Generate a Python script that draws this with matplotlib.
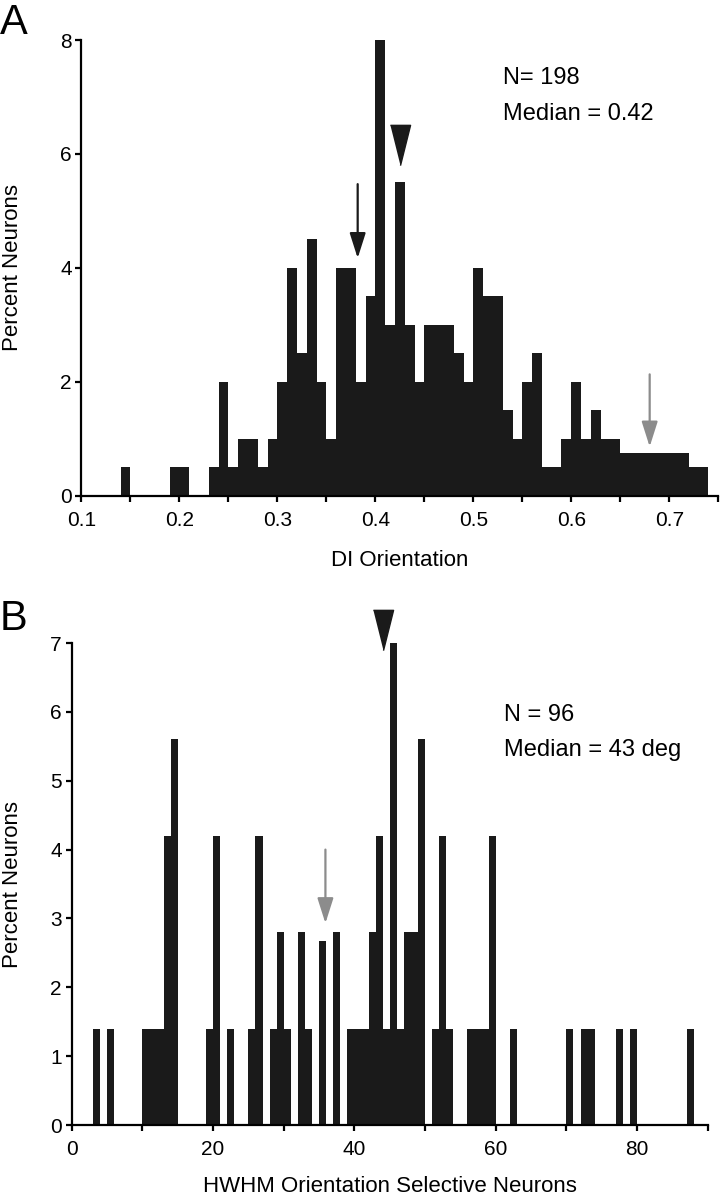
import matplotlib
matplotlib.use("Agg")
import matplotlib.pyplot as plt
import numpy as np

plt.rcParams['font.family'] = ['Liberation Sans', 'DejaVu Sans']

# panel A: DI orientation histogram (left bin edges, percent of neurons)
a_bins = [0.14, 0.15, 0.16, 0.17, 0.18, 0.19, 0.20, 0.21, 0.22, 0.23,
          0.24, 0.25, 0.26, 0.27, 0.28, 0.29, 0.30, 0.31, 0.32, 0.33,
          0.34, 0.35, 0.36, 0.37, 0.38, 0.39, 0.40, 0.41, 0.42, 0.43,
          0.44, 0.45, 0.46, 0.47, 0.48, 0.49, 0.50, 0.51, 0.52, 0.53,
          0.54, 0.55, 0.56, 0.57, 0.58, 0.59, 0.60, 0.61, 0.62, 0.63,
          0.64, 0.65, 0.66, 0.67, 0.68, 0.69, 0.70, 0.71, 0.72, 0.73]
a_pct = [0.5, 0, 0, 0, 0, 0.5, 0.5, 0, 0, 0.5,
         2.0, 0.5, 1.0, 1.0, 0.5, 1.0, 2.0, 4.0, 2.5, 4.5,
         2.0, 1.0, 4.0, 4.0, 2.0, 3.5, 8.0, 3.0, 5.5, 3.0,
         2.0, 3.0, 3.0, 3.0, 2.5, 2.0, 4.0, 3.5, 3.5, 1.5,
         1.0, 2.0, 2.5, 0.5, 0.5, 1.0, 2.0, 1.0, 1.5, 1.0,
         1.0, 0.75, 0.75, 0.75, 0.75, 0.75, 0.75, 0.75, 0.5, 0.5]
a_median = 0.425
a_black_arrow = 0.382
a_gray_arrow = 0.68

# panel B: HWHM histogram (1 deg bins, only non-empty bins)
b_bins = [3, 5, 10, 11, 12, 13, 14, 19, 20, 22, 25, 26, 28, 29, 30, 32, 33,
          35, 37, 39, 40, 41, 42, 43, 44, 45, 46, 47, 48, 49, 51, 52, 53,
          56, 57, 58, 59, 62, 70, 72, 73, 77, 79, 87]
b_pct = [1.4, 1.4, 1.4, 1.4, 1.4, 4.2, 5.6, 1.4, 4.2, 1.4, 1.4, 4.2, 1.4,
         2.8, 1.4, 2.8, 1.4, 2.67, 2.8, 1.4, 1.4, 1.4, 2.8, 4.2, 1.4, 7.0,
         1.4, 2.8, 2.8, 5.6, 1.4, 4.2, 1.4, 1.4, 1.4, 1.4, 4.2, 1.4, 1.4,
         1.4, 1.4, 1.4, 1.4, 1.4]
b_median = 44
b_gray_arrow = 35.9

bar_col = '#1a1a1a'
gray = '#8c8c8c'
tri = [(-0.5, 1), (0.5, 1), (0, -1)]
arrow_style = '-|>,head_length=1.1,head_width=0.35'

fig = plt.figure(figsize=(7.2, 11.99), dpi=100)
ax1 = fig.add_axes([0.113, 0.5866, 0.8846, 0.38])
ax2 = fig.add_axes([0.0996, 0.0617, 0.8834, 0.402])

for ax in (ax1, ax2):
    for s in ('top', 'right'):
        ax.spines[s].set_visible(False)
    for s in ('left', 'bottom'):
        ax.spines[s].set_linewidth(1.6)
    ax.tick_params(which='both', direction='out', length=4, width=1.6,
                   labelsize=15)
    ax.tick_params(axis='x', which='both', pad=7)
    ax.tick_params(axis='y', which='both', pad=3)

# --- panel A
ax1.bar(a_bins, a_pct, width=0.01, align='edge', color=bar_col, linewidth=0)
ax1.set_xlim(0.1, 0.75)
ax1.set_ylim(0, 8)
ax1.set_xticks([0.1, 0.2, 0.3, 0.4, 0.5, 0.6, 0.7])
ax1.set_xticks(np.arange(0.15, 0.76, 0.1), minor=True)
ax1.set_yticks([0, 2, 4, 6, 8])
ax1.set_xlabel('DI Orientation', fontsize=16)
ax1.set_ylabel('Percent Neurons', fontsize=16)
ax1.xaxis.set_label_coords(0.5, -0.12)
ax1.yaxis.set_label_coords(-0.0915, 0.5)
ax1.annotate('', xy=(a_black_arrow, 4.17), xytext=(a_black_arrow, 5.47),
             arrowprops=dict(arrowstyle=arrow_style, color=bar_col, lw=1.6,
                             mutation_scale=14, shrinkA=0, shrinkB=0))
ax1.annotate('', xy=(a_gray_arrow, 0.86), xytext=(a_gray_arrow, 2.13),
             arrowprops=dict(arrowstyle=arrow_style, color=gray, lw=1.6,
                             mutation_scale=14, shrinkA=0, shrinkB=0))
ax1.plot([a_median], [6.15], marker=tri, markersize=29, color=bar_col,
         linestyle='none', clip_on=False)
ax1.text(0.53, 7.33, 'N= 198', fontsize=17, va='center', ha='left')
ax1.text(0.53, 6.71, 'Median = 0.42', fontsize=17, va='center', ha='left')

# --- panel B
ax2.bar(b_bins, b_pct, width=1, align='edge', color=bar_col, linewidth=0)
ax2.set_xlim(0, 90)
ax2.set_ylim(0, 7)
ax2.set_xticks([0, 20, 40, 60, 80])
ax2.set_xticks([10, 30, 50, 70, 90], minor=True)
ax2.set_yticks(range(0, 8))
ax2.set_xlabel('HWHM Orientation Selective Neurons', fontsize=16)
ax2.set_ylabel('Percent Neurons', fontsize=16)
ax2.xaxis.set_label_coords(0.5, -0.106)
ax2.yaxis.set_label_coords(-0.0766, 0.5)
ax2.annotate('', xy=(b_gray_arrow, 2.93), xytext=(b_gray_arrow, 4.0),
             arrowprops=dict(arrowstyle=arrow_style, color=gray, lw=1.6,
                             mutation_scale=14, shrinkA=0, shrinkB=0))
ax2.plot([b_median], [7.19], marker=tri, markersize=29, color=bar_col,
         linestyle='none', clip_on=False)
ax2.text(61.1, 5.96, 'N = 96', fontsize=17, va='center', ha='left')
ax2.text(61.1, 5.45, 'Median = 43 deg', fontsize=17, va='center', ha='left')

fig.text(0.0, 0.9975, 'A', fontsize=30, va='top', ha='left')
fig.text(0.0, 0.50, 'B', fontsize=30, va='top', ha='left')

fig.savefig('out.png', dpi=100)
